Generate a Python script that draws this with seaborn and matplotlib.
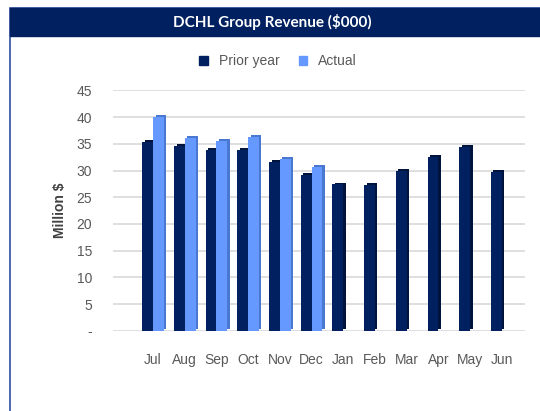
import matplotlib
matplotlib.use("Agg")
import matplotlib.pyplot as plt
import matplotlib.patheffects as pe
import pandas as pd
import seaborn as sns

# DCHL revenue by month
months = ["Jul", "Aug", "Sep", "Oct", "Nov", "Dec", "Jan", "Feb", "Mar", "Apr", "May", "Jun"]
prior_year = [35.3, 34.6, 33.9, 33.9, 31.6, 29.2, 27.4, 27.3, 29.9, 32.5, 34.4, 29.7]
actual = [40.1, 36.1, 35.6, 36.3, 32.1, 30.7, 0, 0, 0, 0, 0, 0]
series = ["Prior year", "Actual"]
yticks = [0, 5, 10, 15, 20, 25, 30, 35, 40, 45]
ytick_labels = ["-", "5", "10", "15", "20", "25", "30", "35", "40", "45"]

df = pd.DataFrame({
    "month": months * 2,
    "series": [series[0]] * len(months) + [series[1]] * len(months),
    "value": prior_year + actual,
})

navy = "#002060"
light = "#6699FF"
grey = "#595959"

sns.set_theme(style="white")
plt.rcParams["font.family"] = ["Liberation Sans", "DejaVu Sans"]

fig = plt.figure(figsize=(5.4, 4.11), dpi=100)
ax = fig.add_axes([0.209, 0.195, 0.763, 0.585])

sns.barplot(data=df, x="month", y="value", hue="series", order=months,
            hue_order=series, palette=[navy, light], width=0.68,
            saturation=1, legend=False, ax=ax, zorder=3, linewidth=0,
            edgecolor="none")

# fake 3d side of the columns
n = len(months)
for i, bar in enumerate(ax.patches):
    side = "#00133d" if i < n else "#4a78d0"
    bar.set_path_effects([pe.SimplePatchShadow(offset=(1.8, 1.4), shadow_rgbFace=side, alpha=1),
                          pe.Normal()])

ax.set_ylim(0, 45)
ax.set_xlim(-1.27, 11.73)
ax.set_yticks(yticks)
ax.set_yticklabels(ytick_labels, color=grey, fontsize=10)
ax.tick_params(axis="x", colors=grey, labelsize=10, pad=10)
ax.tick_params(axis="y", pad=9)
ax.grid(axis="y", color="#d9d9d9", linewidth=1.2, zorder=0)
ax.set_axisbelow(True)
sns.despine(ax=ax, left=True, bottom=True)
ax.set_xlabel("")
ax.set_ylabel("Million $", fontsize=10, fontweight="bold", color="#404040", labelpad=7)

# legend
handles = [plt.Rectangle((0, 0), 1, 1, color=c) for c in (navy, light)]
fig.legend(handles, series, loc="center", bbox_to_anchor=(0.515, 0.851), ncol=2,
           frameon=False, fontsize=10, handlelength=0.6, handleheight=0.6,
           columnspacing=1.4, handletextpad=0.8, labelcolor=grey)

# title banner and outer frame
fig.patches.append(plt.Rectangle((0.019, -0.02), 0.99, 1.001, transform=fig.transFigure,
                                 fill=False, edgecolor="#2f4fa0", linewidth=1.2))
fig.patches.append(plt.Rectangle((0.019, 0.912), 0.99, 0.069, transform=fig.transFigure,
                                 color=navy))
fig.text(0.505, 0.946, "DCHL Group Revenue ($000)", color="white", fontsize=11,
         fontweight="bold", ha="center", va="center", family=["Lato", "DejaVu Sans"])

fig.savefig("out.png", dpi=100)
